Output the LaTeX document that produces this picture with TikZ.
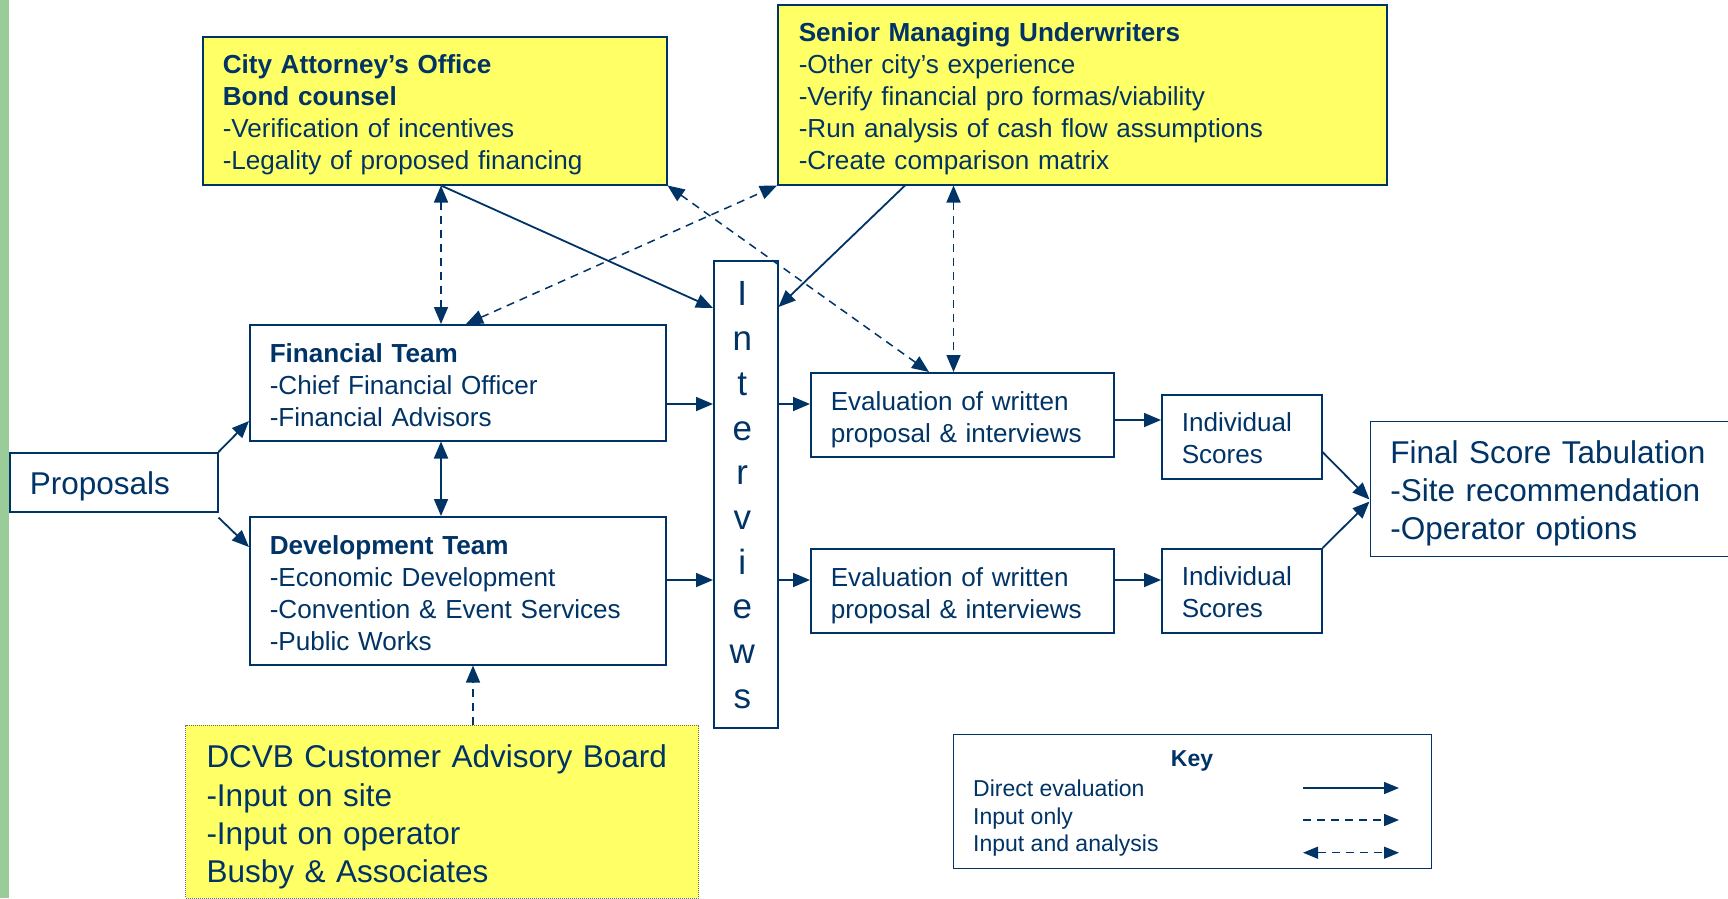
\documentclass[tikz,border=0pt]{standalone}
\usepackage{fontspec}
\setmainfont{Liberation Sans}
\usetikzlibrary{arrows.meta}
\definecolor{navy}{RGB}{0,51,102}
\definecolor{hilite}{RGB}{255,255,102}
\definecolor{sidebar}{RGB}{153,204,153}
\definecolor{dotline}{RGB}{110,110,90}
% invisible strut that sets the height of a box's first text line
\newcommand{\firstline}[1]{\rule{0pt}{#1}}

\begin{document}
\begin{tikzpicture}[x=1pt,y=-1pt,
  box/.style={draw=navy, line width=1.5pt, inner sep=0pt, text=navy,
              anchor=north west, align=left},
  note/.style={box, fill=hilite},
  txt/.style={font=\fontsize{26.1}{32}\selectfont},
  bigtxt/.style={font=\fontsize{31.5}{38.3}\selectfont},
  keytxt/.style={text=navy, inner sep=0pt, font=\fontsize{23}{28}\selectfont},
  direct/.style={draw=navy, line width=1.8pt,
                 arrows={-Triangle[length=17pt,width=14pt]}},
  inonly/.style={draw=navy, line width=1.5pt, dash pattern=on 8pt off 6pt,
                 arrows={-Triangle[length=17pt,width=14pt]}},
  twoway/.style={draw=navy, line width=1.5pt, dash pattern=on 8pt off 6pt,
                 arrows={Triangle[length=17pt,width=14pt]-Triangle[length=17pt,width=14pt]}},
  mutual/.style={draw=navy, line width=1.8pt,
                 arrows={Triangle[length=17pt,width=14pt]-Triangle[length=17pt,width=14pt]}},
  keydirect/.style={draw=navy, line width=1.5pt,
                 arrows={-Triangle[length=15pt,width=12pt]}},
  keyinonly/.style={draw=navy, line width=1.3pt, dash pattern=on 8pt off 6pt,
                 arrows={-Triangle[length=15pt,width=12pt]}},
  keytwoway/.style={draw=navy, line width=1.3pt, dash pattern=on 8pt off 6pt,
                 arrows={Triangle[length=15pt,width=12pt]-Triangle[length=15pt,width=12pt]}},
]
\useasboundingbox (0,0) rectangle (1728,898);
\fill[white] (0,0) rectangle (1728,898);
\fill[sidebar] (0,0) rectangle (9,898);

% advisory groups
\node[note, txt, minimum width=464pt, minimum height=148pt, text width=424pt] (city) at (202,36)
  {\firstline{26pt}\textbf{City Attorney’s Office}\\\textbf{Bond counsel}\\-Verification of incentives\\-Legality of proposed financing};
\node[note, txt, minimum width=609pt, minimum height=180pt, text width=567pt] (senior) at (777,4)
  {\firstline{26pt}\textbf{Senior Managing Underwriters}\\-Other city’s experience\\-Verify financial pro formas/viability\\-Run analysis of cash flow assumptions\\-Create comparison matrix};

% evaluation teams
\node[box, bigtxt, minimum width=208pt, minimum height=59pt, text width=168pt] (prop) at (9,452) {\firstline{32pt}Proposals};
\node[box, txt, minimum width=416pt, minimum height=116pt, text width=376pt] (fin) at (249,324)
  {\firstline{23.5pt}\textbf{Financial Team}\\-Chief Financial Officer\\-Financial Advisors};
\node[box, txt, minimum width=416pt, minimum height=148pt, text width=376pt] (dev) at (249,516)
  {\firstline{23.5pt}\textbf{Development Team}\\-Economic Development\\-Convention \& Event Services\\-Public Works};
\node[box, minimum width=64pt, minimum height=467pt] (int) at (713,260) {};
\node[text=navy, inner sep=0pt, align=center, font=\fontsize{35}{44.7}\selectfont,
      xshift=-3.5pt, yshift=-1pt] (intlabel) at (int.center)
  {I\\n\\t\\e\\r\\v\\i\\e\\w\\s};

% scoring
\node[box, txt, minimum width=303pt, minimum height=84pt, text width=263pt] (eval1) at (810,372)
  {\firstline{28pt}Evaluation of written\\proposal \& interviews};
\node[box, txt, minimum width=303pt, minimum height=84pt, text width=263pt] (eval2) at (810,548)
  {\firstline{28pt}Evaluation of written\\proposal \& interviews};
\node[box, txt, minimum width=160pt, minimum height=84pt, text width=120pt] (ind1) at (1161,394)
  {\firstline{21pt}Individual\\Scores};
\node[box, txt, minimum width=160pt, minimum height=84pt, text width=120pt] (ind2) at (1161,548)
  {\firstline{21pt}Individual\\Scores};
\node[box, bigtxt, minimum width=400pt, minimum height=135pt, text width=360pt] (final) at (1369.5,420.5)
  {\firstline{32pt}Final Score Tabulation\\-Site recommendation\\-Operator options};

% customer input
\node[box, bigtxt, fill=hilite, draw=dotline, line width=1pt, densely dotted,
      minimum width=513pt, minimum height=173pt, text width=471pt] (dcvb) at (185,724.5)
  {\firstline{34pt}DCVB Customer Advisory Board\\-Input on site\\-Input on operator\\Busby \& Associates};

% key
\node[box, line width=1.2pt, minimum width=478pt, minimum height=134pt] (key) at (953,734) {};
\node[keytxt, anchor=base, font=\fontsize{23}{28}\selectfont\bfseries] (keyhead) at (1192,766.7) {Key};
\node[keytxt, anchor=base west] (keyd) at (973,796) {Direct evaluation};
\node[keytxt, anchor=base west] (keyi) at (973,824) {Input only};
\node[keytxt, anchor=base west] (keya) at (973,851.7) {Input and analysis};
\coordinate (kd1) at (1303,788);   \coordinate (kd2) at (1399,788);
\coordinate (ki1) at (1303,820);   \coordinate (ki2) at (1399,820);
\coordinate (ka1) at (1303,852.7); \coordinate (ka2) at (1399,852.7);
\draw[keydirect] (kd1) -- (kd2);
\draw[keyinonly] (ki1) -- (ki2);
\draw[keytwoway] (ka1) -- (ka2);

% connectors: proposals into the teams
\draw[direct] (prop.north east) -- ([yshift=-97pt]fin.north west);
\draw[direct] ([yshift=-5pt]prop.south east) -- ([yshift=-31pt]dev.north west);
\draw[mutual] ([xshift=192pt]fin.south west) -- ([xshift=192pt]dev.north west);

% teams into interviews and on to evaluation
\coordinate (row1) at ([yshift=-80pt]fin.north east);
\coordinate (row2) at ([yshift=-64pt]dev.north east);
\draw[direct] (row1) -- (row1 -| int.west);
\draw[direct] (row2) -- (row2 -| int.west);
\draw[direct] (row1 -| int.east) -- (row1 -| eval1.west);
\draw[direct] (row2 -| int.east) -- (row2 -| eval2.west);

% evaluation to scores to tabulation
\coordinate (srow1) at ([yshift=-48pt]eval1.north east);
\coordinate (srow2) at ([yshift=-32pt]eval2.north east);
\draw[direct] (srow1) -- (srow1 -| ind1.west);
\draw[direct] (srow2) -- (srow2 -| ind2.west);
\draw[direct] ([yshift=-58pt]ind1.north east) -- ([yshift=-79pt]final.north west);
\draw[direct] (ind2.north east) -- ([yshift=-81pt]final.north west);

% advisory connectors
\draw[direct] ([xshift=239pt]city.south west) -- ([yshift=-48pt]int.north west);
\draw[direct] ([xshift=128pt]senior.south west) -- ([yshift=-47pt]int.north east);
\draw[twoway] ([xshift=239pt]city.south west) -- ([xshift=192pt]fin.north west);
\draw[twoway] ([xshift=217pt]fin.north west) -- (senior.south west);
\draw[twoway] (city.south east) -- ([xshift=119pt]eval1.north west);
\draw[twoway] ([xshift=176.5pt]senior.south west) -- ([xshift=143.5pt]eval1.north west);
\draw[inonly] ([xshift=288pt]dcvb.north west) -- ([xshift=224pt]dev.south west);
\end{tikzpicture}
\end{document}
